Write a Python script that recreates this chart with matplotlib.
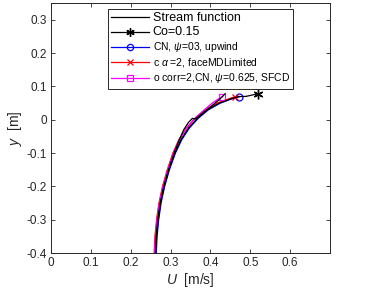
import matplotlib
matplotlib.use("Agg")
import matplotlib.pyplot as plt
from matplotlib.lines import Line2D

plt.rcParams['font.family'] = ['Liberation Sans', 'DejaVu Sans']
plt.rcParams['mathtext.fontset'] = 'custom'
plt.rcParams['mathtext.it'] = 'Liberation Sans:italic'
plt.rcParams['mathtext.rm'] = 'Liberation Sans'

y_common = [-0.4, -0.35, -0.3, -0.25, -0.2, -0.15, -0.1, -0.06, -0.025, 0.005, 0.03, 0.05, 0.062, 0.069]

stream_U = [0.262, 0.264, 0.268, 0.274, 0.283, 0.295, 0.309, 0.322, 0.333, 0.345, 0.355, 0.362, 0.370, 0.388, 0.408, 0.424, 0.437]
stream_y = [-0.4, -0.35, -0.3, -0.25, -0.2, -0.15, -0.1, -0.06, -0.03, -0.008, 0.004, 0.002, 0.010, 0.027, 0.046, 0.062, 0.078]

co_U = [0.263, 0.265, 0.269, 0.275, 0.284, 0.296, 0.311, 0.326, 0.345, 0.368, 0.393, 0.423, 0.450, 0.470, 0.490, 0.520]
co_y = [-0.4, -0.35, -0.3, -0.25, -0.2, -0.15, -0.1, -0.06, -0.025, 0.005, 0.03, 0.05, 0.062, 0.069, 0.070, 0.078]

cn_U = [0.264, 0.266, 0.270, 0.276, 0.285, 0.297, 0.312, 0.328, 0.347, 0.370, 0.395, 0.425, 0.452, 0.4725]
alpha_U = [0.259, 0.261, 0.265, 0.271, 0.280, 0.292, 0.306, 0.321, 0.340, 0.362, 0.388, 0.418, 0.445, 0.462]
corr_U = [0.260, 0.262, 0.266, 0.272, 0.281, 0.293, 0.307, 0.322, 0.340, 0.362, 0.385, 0.405, 0.420, 0.430]

labels = ['Stream function', 'Co=0.15', r'CN, $\psi$=03, upwind',
          r'c $\alpha$ =2, faceMDLimited', r'o corr=2,CN, $\psi$=0.625, SFCD']

x_ticks = [0, 0.1, 0.2, 0.3, 0.4, 0.5, 0.6]
y_ticks = [-0.4, -0.3, -0.2, -0.1, 0, 0.1, 0.2, 0.3]

fig = plt.figure(figsize=(3.66, 2.93), dpi=100)
ax = fig.add_axes([51/366, 40/293, 279/366, 250/293])

ax.plot(cn_U, y_common, color='blue', lw=1.0, marker='o', markevery=[len(cn_U)-1],
        ms=5, mfc='none', mew=0.9)
ax.plot(alpha_U, y_common, color='red', lw=1.0, marker='x', markevery=[len(alpha_U)-1],
        ms=5, mew=0.9)
ax.plot(corr_U, y_common, color='magenta', lw=1.0, marker='s', markevery=[len(corr_U)-1],
        ms=4.5, mfc='none', mew=0.9)
ax.plot(stream_U, stream_y, color='black', lw=0.9)
ax.plot(co_U, co_y, color='black', lw=0.9, marker=(6, 2, 0), markevery=[len(co_U)-1],
        ms=7, mew=1.0)

ax.set_xlim(0, 0.7)
ax.set_ylim(-0.4, 0.35)
ax.set_xticks(x_ticks)
ax.set_xticklabels(['0', '0.1', '0.2', '0.3', '0.4', '0.5', '0.6'])
ax.set_yticks(y_ticks)
ax.set_yticklabels(['-0.4', '-0.3', '-0.2', '-0.1', '0', '0.1', '0.2', '0.3'])
ax.tick_params(direction='in', length=3, width=0.6, top=True, right=True,
               labelsize=8.5, colors='#262626', pad=3)
for s in ax.spines.values():
    s.set_color('#262626')
    s.set_linewidth(0.7)

ax.set_xlabel(r'$U$  [m/s]', fontsize=10, color='#262626', labelpad=1)
ax.set_ylabel(r'$y$  [m]', fontsize=10, color='#262626', labelpad=2)

handles = [
    Line2D([], [], color='black', lw=0.9),
    Line2D([], [], color='black', lw=0.9, marker=(6, 2, 0), ms=6, mew=1.0),
    Line2D([], [], color='blue', lw=0.9, marker='o', ms=4.5, mfc='none', mew=0.9),
    Line2D([], [], color='red', lw=0.9, marker='x', ms=4.5, mew=0.9),
    Line2D([], [], color='magenta', lw=0.9, marker='s', ms=4, mfc='none', mew=0.9),
]
leg = ax.legend(handles, labels, loc='upper left', bbox_to_anchor=((108-51)/279, (284-40)/250),
                bbox_transform=ax.transAxes, fontsize=7.5, handlelength=3.6, handletextpad=0.4,
                labelspacing=0.2, borderpad=0.3, frameon=True, fancybox=False, framealpha=1,
                borderaxespad=0)
leg.get_frame().set_edgecolor('#262626')
leg.get_frame().set_linewidth(0.7)
for i, t in enumerate(leg.get_texts()):
    t.set_fontsize(9 if i < 2 else 7.5)

fig.savefig('out.png', dpi=100)
